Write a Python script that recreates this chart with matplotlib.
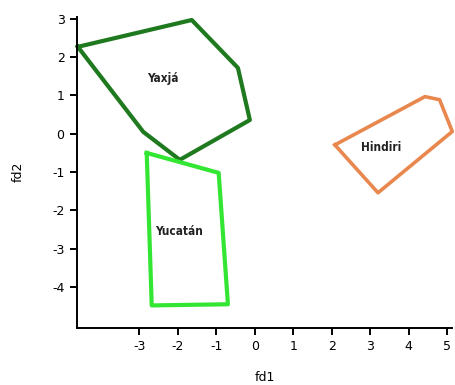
import matplotlib
matplotlib.use("Agg")
import matplotlib.pyplot as plt

plt.rcParams["font.family"] = ["DejaVu Sans"]
plt.rcParams["axes.unicode_minus"] = False

# group hulls in the discriminant plane (fd1, fd2)
yaxja_fd1 = [-4.6, -1.64, -0.44, -0.13, -1.95, -2.9, -4.6]
yaxja_fd2 = [2.27, 2.97, 1.72, 0.36, -0.68, 0.05, 2.27]

yucatan_fd1 = [-2.81, -0.94, -0.70, -2.68, -2.81]
yucatan_fd2 = [-0.50, -1.02, -4.45, -4.48, -0.50]

hindiri_fd1 = [2.08, 4.42, 4.80, 5.13, 3.20, 2.08]
hindiri_fd2 = [-0.29, 0.97, 0.89, 0.06, -1.54, -0.29]

groups = ["Yaxjá", "Yucatán", "Hindiri"]
label_pos = [(-2.38, 1.45), (-1.97, -2.54), (3.29, -0.37)]
colors = ["#1f7a1f", "#33e633", "#e8884e"]

fig = plt.figure(figsize=(4.56, 3.85), dpi=100)
ax = fig.add_axes([0.169, 0.149, 0.822, 0.807])

ax.plot(yaxja_fd1, yaxja_fd2, color=colors[0], lw=3, clip_on=False)
ax.plot(yucatan_fd1, yucatan_fd2, color=colors[1], lw=3, clip_on=False)
ax.plot(hindiri_fd1, hindiri_fd2, color=colors[2], lw=2.6, clip_on=False)

for name, (x, y) in zip(groups, label_pos):
    ax.text(x, y, name, ha="center", va="center", fontsize=8.5,
            fontstretch="condensed", fontweight="bold", color="#222222")

ax.set_xlim(-4.62, 5.12)
ax.set_ylim(-5.06, 3.05)
ax.set_xticks([-3, -2, -1, 0, 1, 2, 3, 4, 5])
ax.set_yticks([3, 2, 1, 0, -1, -2, -3, -4])

for side in ["top", "right"]:
    ax.spines[side].set_visible(False)
for side in ["left", "bottom"]:
    ax.spines[side].set_linewidth(1.4)
ax.tick_params(direction="out", length=5, width=1.4, labelsize=9, pad=4)

ax.set_xlabel("fd1", fontsize=9, labelpad=13)
ax.set_ylabel("fd2", fontsize=9, labelpad=20)

fig.savefig("out.png", dpi=100)
